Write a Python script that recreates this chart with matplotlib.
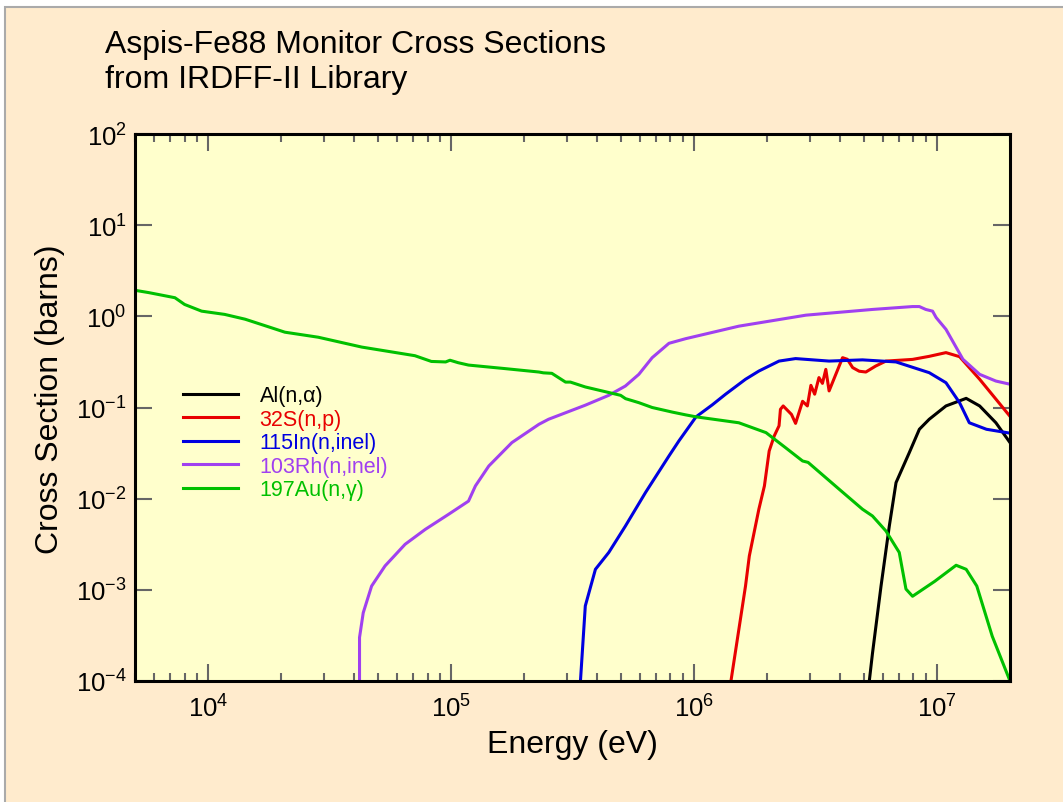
import matplotlib
matplotlib.use("Agg")
import matplotlib.pyplot as plt
from matplotlib.patches import Rectangle
from matplotlib.ticker import LogLocator, NullLocator, LogFormatterSciNotation

plt.rcParams['font.family'] = ['Liberation Sans', 'DejaVu Sans']
plt.rcParams['mathtext.fontset'] = 'custom'
plt.rcParams['mathtext.rm'] = 'Liberation Sans'
plt.rcParams['mathtext.it'] = 'Liberation Sans'

# values (energy in eV, cross section in barns)
al_E = [5.27e6, 5.43e6, 5.89e6, 6.37e6, 6.79e6, 7.7e6, 8.47e6, 9.3e6, 1.09e7,
        1.32e7, 1.5e7, 1.75e7, 2.0e7]
al_xs = [1e-4, 2.0e-4, 1.1e-3, 5.0e-3, 0.015, 0.032, 0.0577, 0.0743, 0.104,
         0.126, 0.104, 0.068, 0.0412]

s_E = [1.42e6, 1.63e6, 1.69e6, 1.85e6, 1.95e6, 2.04e6, 2.14e6, 2.24e6, 2.27e6,
       2.33e6, 2.52e6, 2.62e6, 2.8e6, 2.93e6, 3.03e6, 3.14e6, 3.27e6, 3.38e6,
       3.49e6, 3.6e6, 4.09e6, 4.28e6, 4.5e6, 4.79e6, 5.1e6, 5.6e6, 6.17e6,
       7.94e6, 9.3e6, 1.09e7, 1.24e7, 1.5e7, 2.0e7]
s_xs = [1e-4, 1.1e-3, 2.35e-3, 7.66e-3, 0.0138, 0.0333, 0.0487, 0.063, 0.0955,
        0.104, 0.084, 0.067, 0.117, 0.104, 0.175, 0.14, 0.213, 0.184,
        0.262, 0.152, 0.352, 0.338, 0.274, 0.25, 0.245, 0.285, 0.323,
        0.337, 0.364, 0.40, 0.361, 0.204, 0.080]

in_E = [3.41e5, 3.57e5, 3.93e5, 4.46e5, 5.22e5, 6.32e5, 7.89e5, 8.67e5, 1.02e6,
        1.19e6, 1.35e6, 1.63e6, 1.85e6, 2.24e6, 2.62e6, 3.6e6, 4.94e6, 6.79e6,
        9.3e6, 1.09e7, 1.24e7, 1.36e7, 1.6e7, 2.0e7]
in_xs = [1e-4, 6.66e-4, 1.68e-3, 2.57e-3, 5.0e-3, 0.0117, 0.0294, 0.043, 0.079,
         0.107, 0.14, 0.204, 0.251, 0.323, 0.344, 0.323, 0.333, 0.316,
         0.241, 0.187, 0.113, 0.068, 0.0577, 0.0523]

rh_E = [4.2e4, 4.2e4, 4.35e4, 4.71e4, 5.35e4, 6.47e4, 7.83e4, 9.78e4, 1.18e5,
        1.26e5, 1.43e5, 1.78e5, 2.3e5, 2.52e5, 3.57e5, 4.46e5, 5.22e5, 5.93e5,
        6.73e5, 7.89e5, 9.25e5, 1.53e6, 2.89e6, 5.43e6, 7.94e6, 8.47e6, 9.0e6,
        9.6e6, 9.93e6, 1.09e7, 1.28e7, 1.5e7, 1.75e7, 2.0e7]
rh_xs = [1e-4, 3.0e-4, 5.6e-4, 1.1e-3, 1.83e-3, 3.16e-3, 4.6e-3, 6.75e-3, 9.4e-3,
         0.0138, 0.0228, 0.0412, 0.0654, 0.0743, 0.106, 0.136, 0.172, 0.231,
         0.352, 0.506, 0.569, 0.78, 1.03, 1.19, 1.28, 1.28, 1.19,
         1.14, 0.97, 0.72, 0.338, 0.231, 0.195, 0.18]

au_E = [5.0e3, 5.7e3, 7.3e3, 8.0e3, 9.4e3, 1.17e4, 1.42e4, 1.82e4, 2.07e4, 2.84e4,
        4.29e4, 7.1e4, 8.3e4, 9.5e4, 9.9e4, 1.07e5, 1.18e5, 1.67e5, 2.3e5, 2.4e5,
        2.6e5, 2.96e5, 3.1e5, 3.57e5, 4.46e5, 4.99e5, 5.23e5, 5.93e5, 6.73e5,
        8.15e5, 9.25e5, 1.02e6, 1.53e6, 1.98e6, 2.39e6, 2.8e6, 2.95e6, 3.96e6,
        4.94e6, 5.43e6, 6.17e6, 7.0e6, 7.46e6, 7.94e6, 9.8e6, 1.2e7, 1.32e7,
        1.46e7, 1.69e7, 2.0e7]
au_xs = [1.93, 1.82, 1.60, 1.35, 1.14, 1.05, 0.93, 0.75, 0.67, 0.59,
         0.46, 0.37, 0.32, 0.316, 0.33, 0.31, 0.292, 0.267, 0.245, 0.24,
         0.237, 0.19, 0.19, 0.168, 0.146, 0.136, 0.125, 0.113, 0.100,
         0.089, 0.083, 0.079, 0.068, 0.053, 0.036, 0.0259, 0.025, 0.0127,
         0.00766, 0.00646, 0.00442, 0.00257, 0.00102, 8.5e-4, 1.24e-3, 1.86e-3, 1.68e-3,
         1.1e-3, 3.1e-4, 1.0e-4]

series = [
    ("Al(n,\u03b1)", al_E, al_xs, "#000000"),
    ("32S(n,p)", s_E, s_xs, "#E80000"),
    ("115In(n,inel)", in_E, in_xs, "#0000E0"),
    ("103Rh(n,inel)", rh_E, rh_xs, "#A040F0"),
    ("197Au(n,\u03b3)", au_E, au_xs, "#00C000"),
]

peach = "#FFEBCD"
fig = plt.figure(figsize=(10.63, 8.03), dpi=100, facecolor="white")
fig.add_artist(Rectangle((5 / 1063, -0.05), 1.2, 1.05 - 8 / 803,
                         transform=fig.transFigure, facecolor=peach,
                         edgecolor="#AAAAAA", linewidth=1.5, zorder=-10))

ax = fig.add_axes([135 / 1063, 1 - 682 / 803, 875 / 1063, 547 / 803])
ax.set_facecolor("#FFFFCC")

for name, e, xs, col in series:
    ax.plot(e, xs, color=col, lw=2.2, label=name)

ax.set_xscale("log")
ax.set_yscale("log")
ax.set_xlim(5e3, 2e7)
ax.set_ylim(1e-4, 1e2)

ax.xaxis.set_major_locator(LogLocator(base=10, numticks=10))
ax.xaxis.set_minor_locator(LogLocator(base=10, subs=range(2, 10), numticks=10))
ax.yaxis.set_major_locator(LogLocator(base=10, numticks=10))
ax.yaxis.set_minor_locator(NullLocator())
ax.xaxis.set_major_formatter(LogFormatterSciNotation())
ax.yaxis.set_major_formatter(LogFormatterSciNotation())

for s in ax.spines.values():
    s.set_linewidth(2.2)
    s.set_color("black")

ax.tick_params(which="both", direction="in", top=True, right=True,
               color="#666666", width=1.5)
ax.tick_params(which="major", length=12)
ax.tick_params(which="minor", length=6)
ax.tick_params(axis="x", which="major", labelsize=18.5, pad=10)
ax.tick_params(axis="y", which="major", labelsize=18.5, pad=6)

ax.set_xlabel("Energy (eV)", fontsize=23, va="center")
ax.xaxis.set_label_coords(0.4994, -0.115)
ax.set_ylabel("Cross Section (barns)", fontsize=23, va="center")
ax.yaxis.set_label_coords(-0.097, 0.516)

leg = ax.legend(loc="upper left", bbox_to_anchor=(0.0549, 0.541), frameon=False,
                fontsize=15.5, labelcolor="linecolor", handlelength=2.55,
                handletextpad=1.0, labelspacing=0.12, borderpad=0,
                borderaxespad=0)

fig.text(105 / 1063, 1 - 30 / 803,
         "Aspis-Fe88 Monitor Cross Sections\nfrom IRDFF-II Library",
         fontsize=23, ha="left", va="top")

fig.savefig("out.png", dpi=100, facecolor=fig.get_facecolor())
